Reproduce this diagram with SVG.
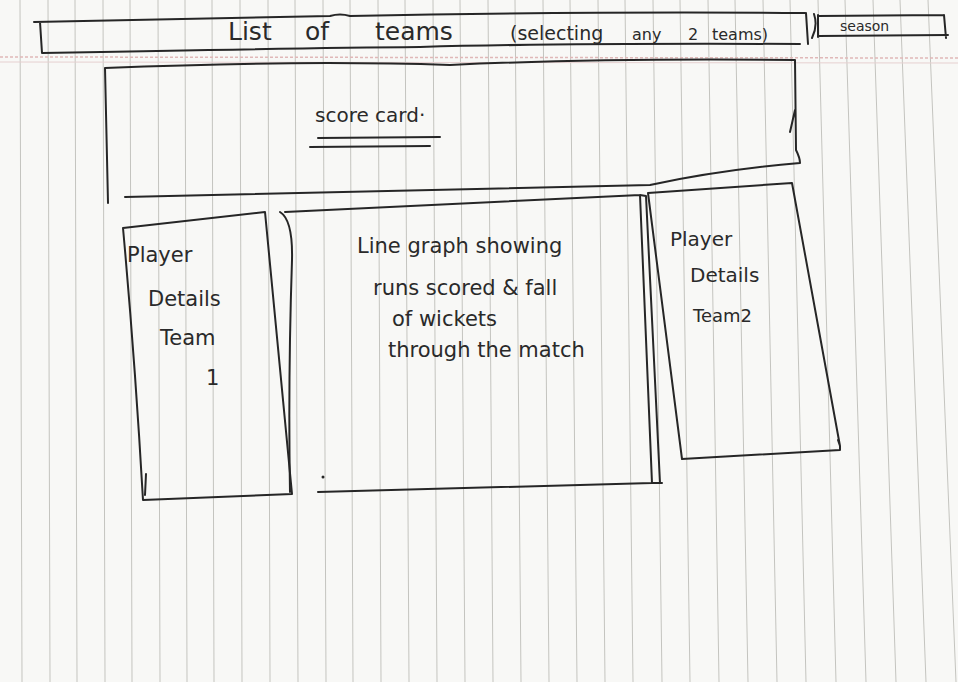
<svg xmlns="http://www.w3.org/2000/svg" width="958" height="682" viewBox="0 0 958 682">
<style>
.ink{fill:none;stroke:#262626;stroke-width:2;stroke-linecap:round;stroke-linejoin:round}
.hand{font-family:"DejaVu Sans","Liberation Sans",sans-serif;fill:#2a2a2a;font-weight:normal}
.rule{stroke:#c4c4bf;stroke-width:1}
</style>
<rect width="958" height="682" fill="#f8f8f6"/>
<g id="paper">
<g class="rule">
<line x1="20" y1="0" x2="22" y2="682"/><line x1="48" y1="0" x2="50" y2="682"/><line x1="75" y1="0" x2="77" y2="682"/><line x1="103" y1="0" x2="105" y2="682"/><line x1="130" y1="0" x2="132" y2="682"/><line x1="158" y1="0" x2="160" y2="682"/><line x1="185" y1="0" x2="187" y2="682"/><line x1="212" y1="0" x2="214" y2="682"/><line x1="240" y1="0" x2="242" y2="682"/><line x1="268" y1="0" x2="270" y2="682"/><line x1="295" y1="0" x2="298" y2="682"/><line x1="323" y1="0" x2="326" y2="682"/><line x1="350" y1="0" x2="353" y2="682"/><line x1="378" y1="0" x2="381" y2="682"/><line x1="405" y1="0" x2="409" y2="682"/><line x1="433" y1="0" x2="437" y2="682"/><line x1="460" y1="0" x2="465" y2="682"/><line x1="488" y1="0" x2="493" y2="682"/><line x1="515" y1="0" x2="521" y2="682"/><line x1="543" y1="0" x2="549" y2="682"/><line x1="570" y1="0" x2="577" y2="682"/><line x1="598" y1="0" x2="605" y2="682"/><line x1="625" y1="0" x2="633" y2="682"/><line x1="653" y1="0" x2="662" y2="682"/><line x1="680" y1="0" x2="690" y2="682"/><line x1="708" y1="0" x2="719" y2="682"/><line x1="735" y1="0" x2="748" y2="682"/><line x1="763" y1="0" x2="777" y2="682"/><line x1="790" y1="0" x2="806" y2="682"/><line x1="818" y1="0" x2="836" y2="682"/><line x1="845" y1="0" x2="866" y2="682"/><line x1="873" y1="0" x2="896" y2="682"/><line x1="900" y1="0" x2="926" y2="682"/><line x1="928" y1="0" x2="956" y2="682"/>
</g>
<line x1="0" y1="57" x2="958" y2="58" stroke="#e0b8b8" stroke-width="1.5" stroke-dasharray="3 2"/>
<line x1="0" y1="62" x2="958" y2="63" stroke="#e6d0d0" stroke-width="1"/>
</g>
<g id="connectors"/>
<g id="team-list">
<path class="ink" d="M34 22 Q200 18 330 16 Q340 13 350 16 Q600 11 805 13 M40 22 L42 53 Q300 48 420 47 Q560 43 800 44 M806 13 L808 44 M812 38 Q818 26 814 14"/>
<text class="hand" y="40"><tspan x="228" font-size="25">List</tspan><tspan x="305" font-size="25">of</tspan><tspan x="375" font-size="25">teams</tspan><tspan x="510" font-size="19">(selecting</tspan><tspan x="632" font-size="16">any</tspan><tspan x="688" font-size="16">2</tspan><tspan x="712" font-size="16">teams)</tspan></text>
</g>
<g id="season">
<path class="ink" d="M818 15 L818 37 M818 16 L944 15 M818 36 L948 35 M944 15 L946 38"/>
<text class="hand" x="840" y="31" font-size="14">season</text>
</g>
<g id="score-card">
<path class="ink" d="M105 68 Q300 60 450 65 Q600 58 795 60 L796 150 Q800 158 800 163 Q720 170 650 185 Q400 190 125 197 M105 68 L108 203 M790 132 L795 110"/>
<text class="hand" x="315" y="122" font-size="20">score card·</text>
<path class="ink" d="M318 138 L440 137 M310 147 L430 146" stroke-width="1.6"/>
</g>
<g id="team1">
<path class="ink" d="M123 228 L265 212 L292 494 L143 500 Q135 360 123 228 M145 495 L146 474"/>
<text class="hand" font-size="21"><tspan x="127" y="262">Player</tspan><tspan x="148" y="306">Details</tspan><tspan x="160" y="345">Team</tspan><tspan x="206" y="385">1</tspan></text>
</g>
<g id="line-graph">
<path class="ink" d="M280 212 Q293 220 292 260 Q288 380 290 492 M285 212 L640 195 L652 483 L318 492 M640 195 L646 196 L660 483 M652 483 L662 483"/>
<circle cx="323" cy="477" r="1.5" fill="#262626"/>
<text class="hand" font-size="21"><tspan x="357" y="253">Line graph showing</tspan><tspan x="373" y="295">runs scored &amp; fall</tspan><tspan x="392" y="326">of wickets</tspan><tspan x="388" y="357">through the match</tspan></text>
</g>
<g id="team2">
<path class="ink" d="M648 193 L792 183 L840 446 L838 440 M648 193 Q665 330 682 459 L840 450 M840 446 L840 450"/>
<text class="hand" font-size="20"><tspan x="670" y="246">Player</tspan><tspan x="690" y="282">Details</tspan><tspan x="693" y="322" font-size="18">Team2</tspan></text>
</g>
</svg>
